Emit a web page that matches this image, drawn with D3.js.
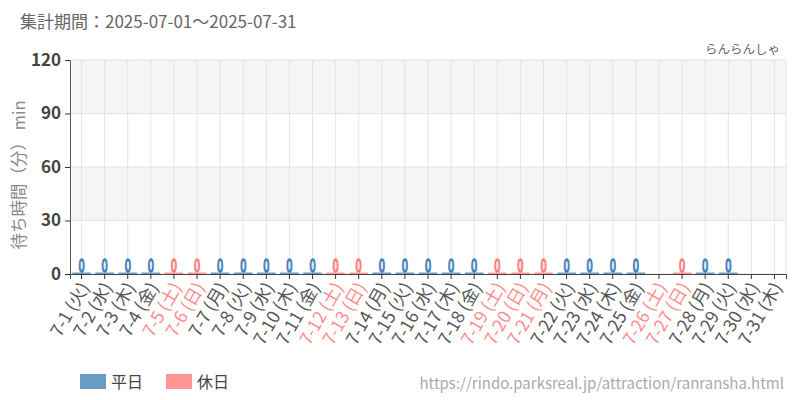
<!DOCTYPE html>
<html>
<head>
<meta charset="utf-8">
<script src="https://cdn.jsdelivr.net/npm/d3@7"></script>
<style>
  body { margin: 0; background: #fff; }
  text { font-family: "Noto Sans CJK JP", "Noto Sans", sans-serif; }
</style>
</head>
<body>
<div id="chart"></div>
<script>
// data
var days = d3.range(1, 32);
var weekdays = ["火","水","木","金","土","日","月","火","水","木","金","土","日","月","火","水","木","金","土","日","月","火","水","木","金","土","日","月","火","水","木"];
var holidays = [5, 6, 12, 13, 19, 20, 21, 26, 27];
var waitTimes = [0,0,0,0,0,0,0,0,0,0,0,0,0,0,0,0,0,0,0,0,0,0,0,0,0,null,0,0,0,null,null];
var yTicks = [0, 30, 60, 90, 120];

var width = 800, height = 400;
var margin = {top: 60, right: 14, bottom: 126, left: 70};

var svg = d3.select("#chart").append("svg")
    .attr("width", width)
    .attr("height", height);

var x = d3.scaleBand()
    .domain(days)
    .range([margin.left, width - margin.right])
    .paddingInner(0.2)
    .paddingOuter(0.1);

var y = d3.scaleLinear()
    .domain([0, 120])
    .range([height - margin.bottom, margin.top]);

var isHoliday = function(d) { return holidays.indexOf(d) >= 0; };

// background bands
for (var i = 0; i < yTicks.length - 1; i++) {
    if (i % 2 === 1) {
        svg.append("rect")
            .attr("x", margin.left)
            .attr("y", y(yTicks[i + 1]))
            .attr("width", width - margin.right - margin.left)
            .attr("height", y(yTicks[i]) - y(yTicks[i + 1]))
            .attr("fill", "#f5f5f5");
    }
}

// grid lines
svg.append("g").selectAll("line")
    .data(yTicks)
    .enter().append("line")
    .attr("x1", margin.left).attr("x2", width - margin.right)
    .attr("y1", function(d) { return y(d); }).attr("y2", function(d) { return y(d); })
    .attr("stroke", "#e4e4e4");

svg.append("g").selectAll("line")
    .data(days)
    .enter().append("line")
    .attr("x1", function(d) { return x(d) + x.bandwidth() / 2; })
    .attr("x2", function(d) { return x(d) + x.bandwidth() / 2; })
    .attr("y1", margin.top).attr("y2", y(0))
    .attr("stroke", "#e4e4e4");

svg.append("line")
    .attr("x1", width - margin.right).attr("x2", width - margin.right)
    .attr("y1", margin.top).attr("y2", y(0))
    .attr("stroke", "#e4e4e4");

// bars
var barData = days.map(function(d, i) { return {day: d, value: waitTimes[i]}; })
    .filter(function(d) { return d.value !== null; });

svg.append("g").selectAll("rect")
    .data(barData)
    .enter().append("rect")
    .attr("x", function(d) { return x(d.day); })
    .attr("width", x.bandwidth())
    .attr("y", function(d) { return Math.min(y(d.value), y(0) - 1.5); })
    .attr("height", function(d) { return Math.max(y(0) - y(d.value), 1.5); })
    .attr("fill", function(d) { return isHoliday(d.day) ? "#ff9696" : "#6a9bc3"; });

// value labels, narrow outlined digits
svg.append("g").selectAll("text")
    .data(barData)
    .enter().append("text")
    .attr("transform", function(d) {
        return "translate(" + (x(d.day) + x.bandwidth() / 2) + "," + (y(d.value) - 2) + ") scale(0.62,1)";
    })
    .attr("text-anchor", "middle")
    .attr("font-size", 18)
    .attr("fill", function(d) { return isHoliday(d.day) ? "#ffd2d2" : "#c4daee"; })
    .attr("stroke", function(d) { return isHoliday(d.day) ? "#ff7b7b" : "#3f7fbf"; })
    .attr("stroke-width", 1.4)
    .text(function(d) { return d.value; });

// y axis
var yAxis = svg.append("g")
    .attr("transform", "translate(" + margin.left + ",0)")
    .call(d3.axisLeft(y).tickValues(yTicks).tickSize(5).tickPadding(4));
yAxis.select(".domain").attr("stroke", "#555");
yAxis.selectAll(".tick line").attr("stroke", "#333");
yAxis.selectAll("text")
    .attr("font-size", 17)
    .attr("font-weight", 600)
    .attr("fill", "#444")
    .attr("font-family", "'Open Sans', 'Noto Sans', sans-serif");

// x axis
var xAxis = svg.append("g")
    .attr("transform", "translate(0," + y(0) + ")")
    .call(d3.axisBottom(x).tickSizeOuter(0).tickSize(5)
        .tickFormat(function(d) { return "7-" + d + " (" + weekdays[d - 1] + ")"; }));
xAxis.select(".domain").attr("stroke", "#444");
xAxis.selectAll(".tick line").attr("stroke", "#333");
xAxis.selectAll("text")
    .attr("font-size", 17.5)
    .attr("fill", function(d) { return isHoliday(d) ? "#ff8c8c" : "#555"; })
    .attr("text-anchor", "end")
    .attr("dy", "0.35em")
    .attr("transform", "translate(3,10) rotate(-60)")
    .attr("x", 0).attr("y", 0);

// y label
svg.append("text")
    .attr("transform", "translate(25," + ((margin.top + y(0)) / 2 + 8) + ") rotate(-90)")
    .attr("text-anchor", "middle")
    .attr("font-size", 16.5)
    .attr("fill", "#888")
    .text("待ち時間（分） min");

// titles
svg.append("text")
    .attr("x", 20).attr("y", 28)
    .attr("font-size", 17)
    .attr("fill", "#666")
    .text("集計期間：2025-07-01～2025-07-31");

svg.append("text")
    .attr("x", 780).attr("y", 54)
    .attr("text-anchor", "end")
    .attr("font-size", 12.5)
    .attr("fill", "#666")
    .text("らんらんしゃ");

// legend
var legend = [{label: "平日", color: "#6a9bc3"}, {label: "休日", color: "#ff9696"}];
var lg = svg.append("g").selectAll("g")
    .data(legend)
    .enter().append("g")
    .attr("transform", function(d, i) { return "translate(" + (80 + i * 86) + ",374)"; });
lg.append("rect").attr("width", 26).attr("height", 15).attr("fill", function(d) { return d.color; });
lg.append("text").attr("x", 31).attr("y", 14).attr("font-size", 16).attr("fill", "#444")
    .text(function(d) { return d.label; });

svg.append("text")
    .attr("x", 784).attr("y", 389)
    .attr("text-anchor", "end")
    .attr("font-size", 15)
    .attr("fill", "#aaa")
    .text("https://rindo.parksreal.jp/attraction/ranransha.html");
</script>
</body>
</html>
